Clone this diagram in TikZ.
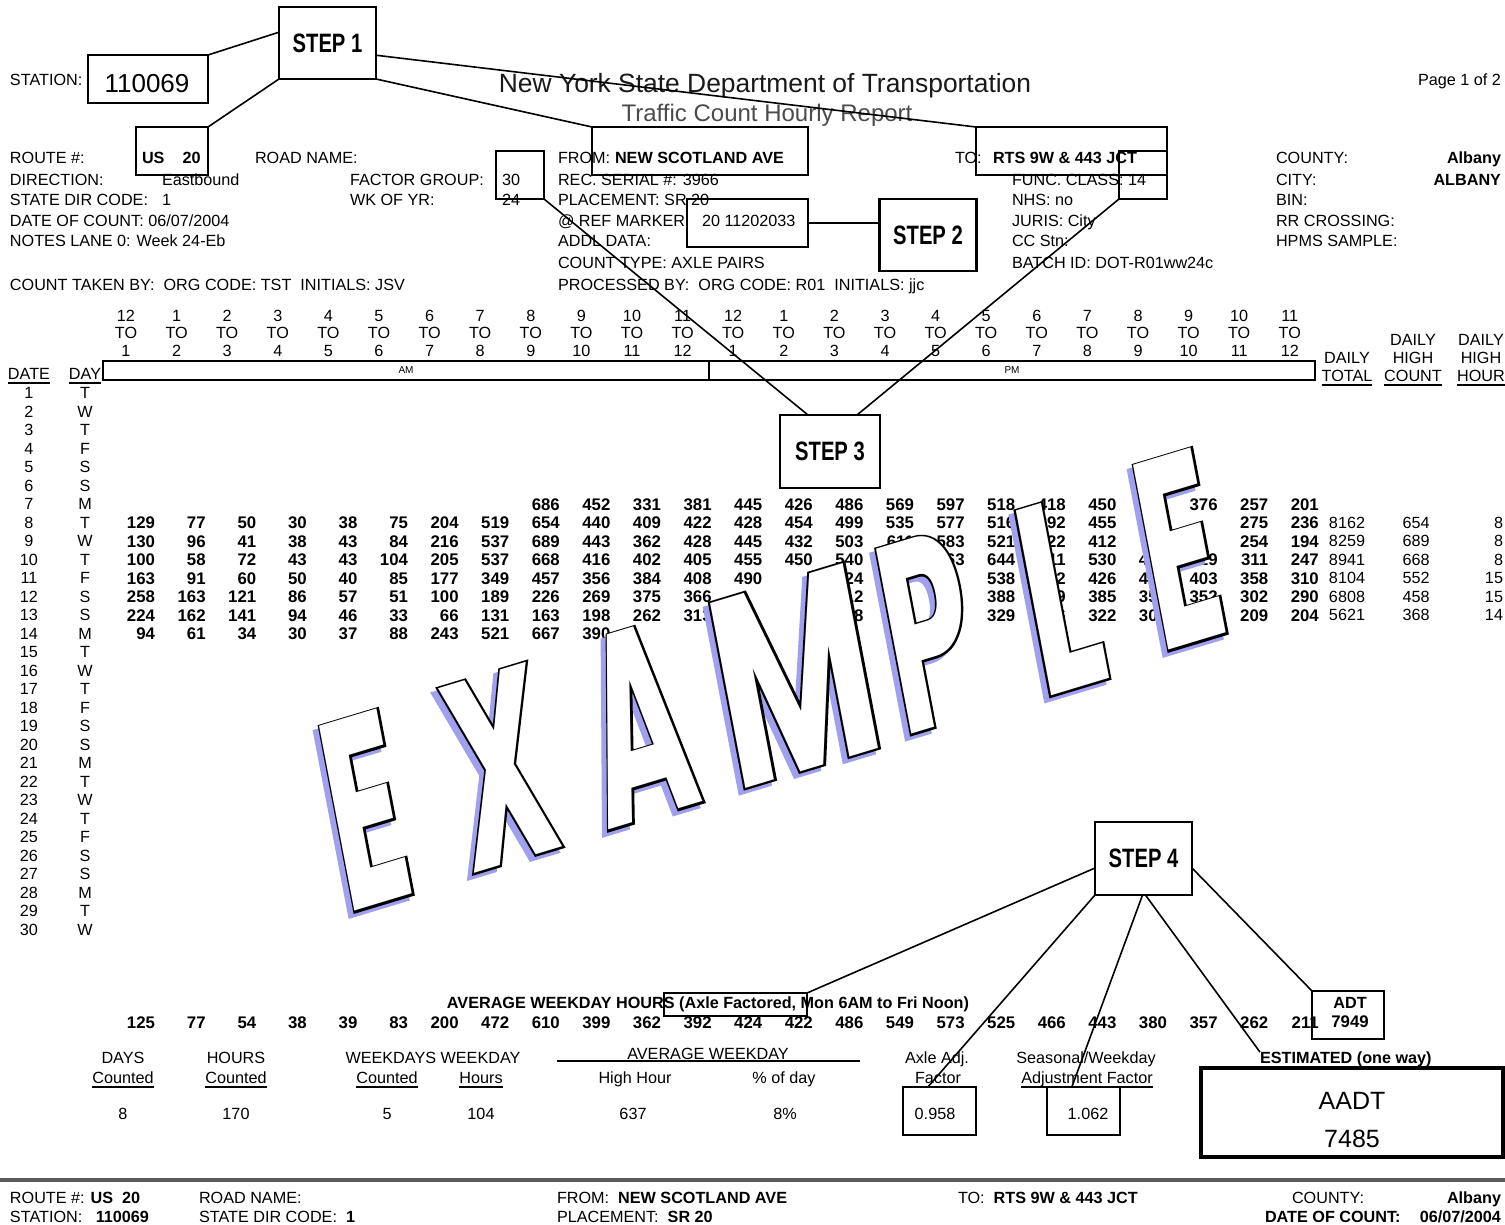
\documentclass[tikz,border=0pt]{standalone}
\usepackage{fontspec}
\setmainfont{Liberation Sans}
\newfontface\stepfont[FakeStretch=0.76]{Liberation Sans Bold}
\newfontface\wmfill[FakeStretch=0.52]{Poppins Bold}
\newfontface\wmline[FakeStretch=0.52,FakeBold=1.5]{Poppins Bold}
\usetikzlibrary{calc}
\definecolor{shadowblue}{RGB}{160,160,238}
\definecolor{titlegray}{RGB}{25,25,25}
\definecolor{subgray}{RGB}{75,75,75}
\definecolor{rulegray}{RGB}{90,90,90}
\tikzset{
  lbl/.style={anchor=base west, yshift=-2.95pt},
  lblr/.style={anchor=base east, yshift=-2.95pt},
  ctr/.style={anchor=base, yshift=-2.95pt},
  num/.style={anchor=base east, yshift=-3pt, font=\fontsize{8.4}{10}\selectfont\bfseries},
  hl/.style={draw, line width=1pt},
  stepbox/.style={draw, line width=1.1pt, fill=white, font=\stepfont\fontsize{13.3}{14}\selectfont, minimum width=48.5pt, minimum height=36pt},
  conn/.style={line width=0.8pt},
  uline/.style={line width=1.1pt},
  wm/.style={anchor=base, cm={0.9573,0.2890,-0.1874,0.9823,(0,0)}},
  wmfont/.style={font=\wmfill\fontsize{134}{134}\selectfont},
  wmout/.style={font=\wmline\fontsize{134}{134}\selectfont},
}
\newcommand\datarow[2]{\foreach \v [count=\c from 0] in {#2} {\ifnum\v=0\relax\else\node[num] (c#1-\c) at ({155+50.6*\c},{393+(#1-1)*18.5}) {\v};\fi}}
\begin{document}
\begin{tikzpicture}[x=0.5pt,y=-0.5pt,every node/.style={inner sep=0pt,outer sep=0pt},font=\fontsize{8.1}{9.7}\selectfont]
\useasboundingbox (0,0) rectangle (1505,1225);
\fill[white] (0,0) rectangle (1505,1225);

% ---------- title block ----------
\node[anchor=base, yshift=-4.7pt, font=\fontsize{13.2}{15}\selectfont, text=titlegray] (title) at (765,83) {New York State Department of Transportation};
\node[anchor=base, yshift=-4.3pt, font=\fontsize{12}{14}\selectfont, text=subgray] (subtitle) at (767,113) {Traffic Count Hourly Report};
\node[lblr] (page) at (1501,80) {Page 1 of 2};
\node[lbl] (stationlbl) at (10,80) {STATION:};
\node[anchor=base, yshift=-4.65pt, font=\fontsize{13}{15}\selectfont] (stationnum) at (147,83) {110069};

% ---------- header fields ----------
\node[lbl] (routelbl) at (10,158) {ROUTE \#:};
\node[lbl] (routeval) at (142,158) {\bfseries US\hspace{9pt}20};
\node[lbl] (dirlbl) at (10,180) {DIRECTION:};
\node[lbl] (dirval) at (162,180) {Eastbound};
\node[lbl] (sdclbl) at (10,200) {STATE DIR CODE:};
\node[lbl] (sdcval) at (162,200) {1};
\node[lbl] (datelbl) at (10,221) {DATE OF COUNT: 06/07/2004};
\node[lbl] (notes) at (10,241) {NOTES LANE 0: Week 24-Eb};
\node[lbl] (taken) at (10,285) {COUNT TAKEN BY:\ \ ORG CODE: TST\ \ INITIALS: JSV};
\node[lbl] (roadlbl) at (255,158) {ROAD NAME:};
\node[lbl] (fglbl) at (350,180) {FACTOR GROUP:};
\node[lbl] (fgval) at (502,180) {30};
\node[lbl] (wklbl) at (350,200) {WK OF YR:};
\node[lbl] (wkval) at (502,200) {24};
\node[lbl] (fromlbl) at (558,158) {FROM:};
\node[lbl] (fromval) at (615,158) {\bfseries NEW SCOTLAND AVE};
\node[lbl] (serial) at (558,180) {REC. SERIAL \#: 3966};
\node[lbl] (placement) at (558,200) {PLACEMENT: SR 20};
\node[lbl] (reflbl) at (558,221) {@ REF MARKER:};
\node[lbl] (refval) at (702,221) {20 11202033};
\node[lbl] (addl) at (558,241) {ADDL DATA:};
\node[lbl] (ctype) at (558,263) {COUNT TYPE: AXLE PAIRS};
\node[lbl] (procby) at (558,285) {PROCESSED BY:\ \ ORG CODE: R01\ \ INITIALS: jjc};
\node[lbl] (tolbl) at (955,158) {TO:};
\node[lbl] (toval) at (993,158) {\bfseries RTS 9W \& 443 JCT};
\node[lbl] (func) at (1012,180) {FUNC. CLASS: 14};
\node[lbl] (nhs) at (1012,200) {NHS: no};
\node[lbl] (juris) at (1012,221) {JURIS: City};
\node[lbl] (ccstn) at (1012,241) {CC Stn:};
\node[lbl] (batch) at (1012,263) {BATCH ID: DOT-R01ww24c};
\node[lbl] (countylbl) at (1276,158) {COUNTY:};
\node[lblr] (countyval) at (1501,158) {\bfseries Albany};
\node[lbl] (citylbl) at (1276,180) {CITY:};
\node[lblr] (cityval) at (1501,180) {\bfseries ALBANY};
\node[lbl] (bin) at (1276,200) {BIN:};
\node[lbl] (rr) at (1276,221) {RR CROSSING:};
\node[lbl] (hpms) at (1276,241) {HPMS SAMPLE:};

% ---------- hour header ----------
\foreach \i in {0,...,23} {
  \pgfmathtruncatemacro\ha{mod(\i+11,12)+1}
  \pgfmathtruncatemacro\hb{mod(\i,12)+1}
  \node[ctr] (ht\i) at ({126+50.6*\i},316) {\ha};
  \node[ctr] (hm\i) at ({126+50.6*\i},333) {TO};
  \node[ctr] (hb\i) at ({126+50.6*\i},351) {\hb};
}
\node[draw, line width=0.7pt, minimum width=303pt, minimum height=9.5pt, font=\fontsize{5}{6}\selectfont] (ambar) at (406,370.5) {AM};
\node[draw, line width=0.7pt, minimum width=303pt, minimum height=9.5pt, font=\fontsize{5}{6}\selectfont] (pmbar) at (1012,370.5) {PM};
\node[ctr] (hdate) at (29,374) {DATE};
\node[ctr] (hday) at (85,374) {DAY};
\node[ctr] (htotd) at (1347,358) {DAILY};
\node[ctr] (htot) at (1347,376) {TOTAL};
\node[ctr] (hcntd) at (1413,340) {DAILY};
\node[ctr] (hcnth) at (1413,358) {HIGH};
\node[ctr] (hcnt) at (1413,376) {COUNT};
\node[ctr] (hhrd) at (1481,340) {DAILY};
\node[ctr] (hhrh) at (1481,358) {HIGH};
\node[ctr] (hhour) at (1481,376) {HOUR};

% ---------- date / day columns ----------
\foreach \w [count=\n] in {T,W,T,F,S,S,M,T,W,T,F,S,S,M,T,W,T,F,S,S,M,T,W,T,F,S,S,M,T,W} {
  \node[ctr] (date\n) at (29,{393+(\n-1)*18.5}) {\n};
  \node[ctr] (day\n) at (85,{393+(\n-1)*18.5}) {\w};
}

% ---------- hourly data ----------
\datarow{7}{0,0,0,0,0,0,0,0,686,452,331,381,445,426,486,569,597,518,418,450,0,376,257,201}
\datarow{8}{129,77,50,30,38,75,204,519,654,440,409,422,428,454,499,535,577,516,392,455,0,0,275,236}
\datarow{9}{130,96,41,38,43,84,216,537,689,443,362,428,445,432,503,611,583,521,522,412,0,0,254,194}
\datarow{10}{100,58,72,43,43,104,205,537,668,416,402,405,455,450,540,0,563,644,511,530,448,319,311,247}
\datarow{11}{163,91,60,50,40,85,177,349,457,356,384,408,490,0,524,0,0,538,452,426,441,403,358,310}
\datarow{12}{258,163,121,86,57,51,100,189,226,269,375,366,0,0,412,0,0,388,389,385,350,352,302,290}
\datarow{13}{224,162,141,94,46,33,66,131,163,198,262,313,0,0,368,0,0,329,346,322,305,0,209,204}
\datarow{14}{94,61,34,30,37,88,243,521,667,390,0,0,0,0,0,0,0,0,0,0,0,0,0,0}
\foreach \r/\t/\hc/\hh in {8/8162/654/8,9/8259/689/8,10/8941/668/8,11/8104/552/15,12/6808/458/15,13/5621/368/14} {
  \node[ctr] (tot\r) at (1347,{393+(\r-1)*18.5}) {\t};
  \node[ctr] (hc\r) at (1416,{393+(\r-1)*18.5}) {\hc};
  \node[lblr] (hh\r) at (1503,{393+(\r-1)*18.5}) {\hh};
}

% ---------- averages ----------
\node[anchor=base, yshift=-2.95pt, font=\fontsize{8.1}{9.7}\selectfont\bfseries] (avgtitle) at (708,1003) {AVERAGE WEEKDAY HOURS (Axle Factored, Mon 6AM to Fri Noon)};
\foreach \v [count=\c from 0] in {125,77,54,38,39,83,200,472,610,399,362,392,424,422,486,549,573,525,466,443,380,357,262,211} {
  \node[num] (avg\c) at ({155+50.6*\c},1022) {\v};
}
\node[ctr, font=\fontsize{8.1}{9.7}\selectfont\bfseries] (adtlbl) at (1350,1003) {ADT};
\node[ctr, font=\fontsize{8.4}{10}\selectfont\bfseries] (adtval) at (1350,1022) {7949};

\node[ctr] (days) at (123,1058) {DAYS};
\node[ctr] (cnt1) at (123,1078) {Counted};
\node[ctr] (hours) at (236,1058) {HOURS};
\node[ctr] (cnt2) at (236,1078) {Counted};
\node[ctr] (wkdays) at (433,1058) {WEEKDAYS WEEKDAY};
\node[ctr] (cnt3) at (387,1078) {Counted};
\node[ctr] (hrs3) at (481,1078) {Hours};
\node[ctr] (avgwk) at (708,1054) {AVERAGE WEEKDAY};
\node[ctr] (highhr) at (635,1078) {High Hour};
\node[ctr] (pctday) at (784,1078) {\% of day};
\node[ctr] (axleadj) at (937,1058) {Axle Adj.};
\node[ctr] (fac) at (938,1078) {Factor};
\node[ctr] (seas) at (1086,1058) {Seasonal/Weekday};
\node[ctr] (adj) at (1087,1078) {Adjustment Factor};
\node[lbl, font=\fontsize{8.1}{9.7}\selectfont\bfseries] (est) at (1260,1058) {ESTIMATED (one way)};
\node[ctr] (v1) at (123,1114) {8};
\node[ctr] (v2) at (236,1114) {170};
\node[ctr] (v3) at (387,1114) {5};
\node[ctr] (v4) at (481,1114) {104};
\node[ctr] (v5) at (633,1114) {637};
\node[ctr] (v6) at (785,1114) {8\%};
\node[ctr] (v7) at (935,1114) {0.958};
\node[ctr] (v8) at (1088,1114) {1.062};
\node[anchor=base, yshift=-4.5pt, font=\fontsize{12.5}{14}\selectfont] (aadtlbl) at (1352,1100) {AADT};
\node[anchor=base, yshift=-4.5pt, font=\fontsize{12.5}{14}\selectfont] (aadtval) at (1352,1138) {7485};
\draw[line width=0.6pt] (557,1061) -- (860,1061);

\foreach \n in {hdate,hday,htot,hcnt,hhour,cnt1,cnt2,cnt3,hrs3,fac,adj}
  \draw[uline] ([yshift=-1.4pt]\n.base west) -- ([yshift=-1.4pt]\n.base east);

% ---------- footer ----------
\draw[line width=1.6pt, rulegray] (0,1180) -- (1505,1180);
\node[lbl] (f1) at (10,1198) {ROUTE \#: \textbf{US\ \ 20}};
\node[lbl] (f2) at (10,1217) {STATION:\ \ \ \textbf{110069}};
\node[lbl] (f3) at (199,1198) {ROAD NAME:};
\node[lbl] (f4) at (199,1217) {STATE DIR CODE:\ \ \textbf{1}};
\node[lbl] (f5) at (557,1198) {FROM:\ \ \textbf{NEW SCOTLAND AVE}};
\node[lbl] (f6) at (557,1217) {PLACEMENT:\ \ \textbf{SR 20}};
\node[lbl] (f7) at (958,1198) {TO:\ \ \textbf{RTS 9W \& 443 JCT}};
\node[lbl] (f8) at (1292,1198) {COUNTY:};
\node[lblr] (f9) at (1501,1198) {\bfseries Albany};
\node[lbl] (f10) at (1265,1217) {\bfseries DATE OF COUNT:};
\node[lblr] (f11) at (1501,1217) {\bfseries 06/07/2004};

% ---------- watermark ----------
\foreach \nm/\ch/\px/\py/\xs in {we1/E/383/903/1, wx/X/518/860/1, wa/A/656/816/1, wm/M/812/768/1.25, wp/P/945/724/1, wl/L/1077/688/1.1, we2/E/1197/642/1} {
  \node[wm, xscale=\xs, wmout, text=shadowblue] (\nm s) at ({\px-5},{\py+5}) {\ch};
  \node[wm, xscale=\xs, wmout, text=black] (\nm o) at (\px,\py) {\ch};
  \node[wm, xscale=\xs, wmfont, text=white] (\nm) at (\px,\py) {\ch};
}

% ---------- highlight boxes ----------
\node[hl, minimum width=60pt, minimum height=24pt] (stationbox) at (148,79) {};
\node[hl, minimum width=36pt, minimum height=24pt] (routebox) at (172,151) {};
\node[hl, minimum width=108pt, minimum height=24pt] (frombox) at (700,151) {};
\node[hl, minimum width=95.5pt, minimum height=24pt] (tobox) at (1071.5,151) {};
\node[hl, minimum width=24pt, minimum height=24pt] (factorbox) at (520,175) {};
\node[hl, minimum width=24pt, minimum height=24pt] (funcbox) at (1143,175) {};
\node[hl, minimum width=60.5pt, minimum height=24pt] (refbox) at (747.5,223) {};
\node[hl, minimum width=71.5pt, minimum height=11.5pt] (axlefbox) at (735.5,1004.5) {};
\node[hl, minimum width=36pt, minimum height=24pt] (adtbox) at (1348,1015) {};
\node[hl, minimum width=36.5pt, minimum height=24pt] (axleadjbox) at (939.5,1111) {};
\node[hl, minimum width=36.5pt, minimum height=24pt] (seasbox) at (1083.5,1111) {};
\node[draw, line width=1.6pt, minimum width=151pt, minimum height=44.5pt] (aadtbox) at (1352,1112.5) {};

% ---------- step boxes ----------
\node[stepbox] (step1) at (327.5,43) {STEP 1};
\node[stepbox] (step2) at (928,235) {STEP 2};
\node[stepbox, minimum width=50pt, minimum height=36.5pt] (step3) at (830,451.5) {STEP 3};
\node[stepbox, minimum height=36.5pt] (step4) at (1143.5,858.5) {STEP 4};

% ---------- connectors ----------
\draw[conn] ($(step1.north west)!0.35!(step1.south west)$) -- (stationbox.north east);
\draw[conn] (step1.south west) -- (routebox.north east);
\draw[conn] ($(step1.north east)!0.67!(step1.south east)$) -- (tobox.north west);
\draw[conn] (step1.south east) -- (frombox.north west);
\draw[conn] (refbox.east) -- (refbox.east -| step2.west);
\draw[conn] (factorbox.south east) -- ($(step3.north west)!0.28!(step3.north east)$);
\draw[conn] (funcbox.south west) -- ($(step3.north west)!0.77!(step3.north east)$);
\draw[conn] ($(step4.north west)!0.63!(step4.south west)$) -- (axlefbox.north east);
\draw[conn] (step4.south west) -- ($(axleadjbox.north west)!0.34!(axleadjbox.north east)$);
\draw[conn] ($(step4.south west)!0.49!(step4.south east)$) -- ($(seasbox.north west)!0.34!(seasbox.north east)$);
\draw[conn] ($(step4.south west)!0.52!(step4.south east)$) -- (est.north west);
\draw[conn] ($(step4.north east)!0.63!(step4.south east)$) -- (adtbox.north west);
\end{tikzpicture}
\end{document}
